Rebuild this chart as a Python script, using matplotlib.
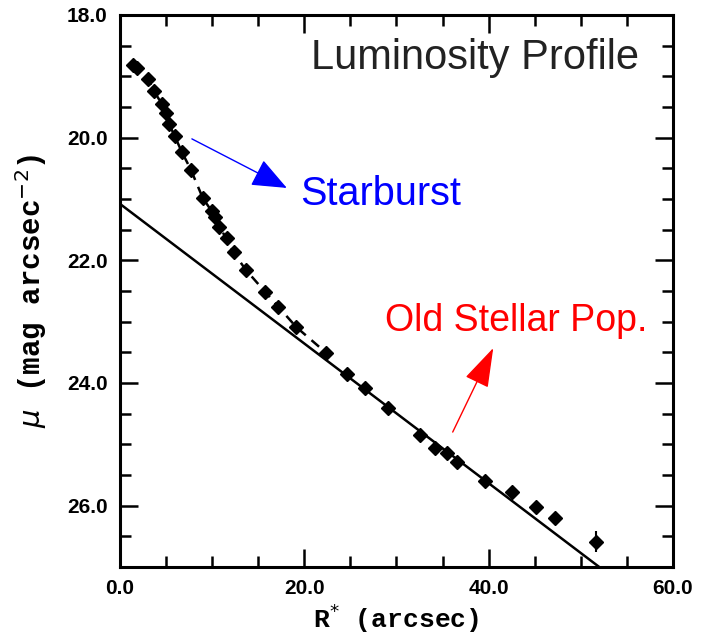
import numpy as np
import matplotlib as mp
mp.use('Agg')
import matplotlib.pyplot as plt

# surface brightness profile, radius in arcsec vs mag/arcsec^2
radius = [1.41, 1.84, 3.03, 3.68, 4.54, 4.97, 5.30, 5.95, 6.70, 7.68,
          8.97, 9.95, 10.27, 10.70, 11.57, 12.32, 13.62, 15.78, 17.19, 19.14,
          22.38, 24.65, 26.59, 29.08, 32.54, 34.16, 35.46, 36.54, 39.57, 42.49,
          45.19, 47.24, 51.68]
mu = [18.81, 18.86, 19.04, 19.24, 19.45, 19.59, 19.77, 19.98, 20.23, 20.52,
      20.98, 21.20, 21.30, 21.45, 21.64, 21.87, 22.15, 22.52, 22.76, 23.09,
      23.51, 23.85, 24.08, 24.41, 24.85, 25.06, 25.14, 25.28, 25.59, 25.77,
      26.02, 26.20, 26.59]
mu_err = [0.0] * 32 + [0.17]

# points joined by the dashed total-profile curve
n_inner = 21

# exponential disk (old population), straight line in mag
disk_r = [0.0, 52.0]
disk_mu = [21.08, 27.0]

fig = plt.figure(figsize=(7.03, 6.43), dpi=100)
ax = fig.add_axes([0.1707, 0.1182, 0.7866, 0.8585])

ax.plot(disk_r, disk_mu, color='black', lw=1.8)
ax.plot(radius[:n_inner], mu[:n_inner], color='black', lw=1.8, ls=(0, (4, 3)))
ax.errorbar(radius, mu, yerr=mu_err, fmt='D', color='black', ms=7,
            elinewidth=1.5, capsize=0)

ax.set_xlim(0, 60)
ax.set_ylim(27, 18)
ax.set_xticks([0, 20, 40, 60])
ax.set_xticks(np.arange(0, 61, 5), minor=True)
ax.set_yticks([18, 20, 22, 24, 26])
ax.set_yticks(np.arange(18, 27.01, 0.5), minor=True)
ax.set_xticklabels(['0.0', '20.0', '40.0', '60.0'])
ax.set_yticklabels(['18.0', '20.0', '22.0', '24.0', '26.0'])
ax.tick_params(which='both', direction='in', top=True, right=True, width=1.8)
ax.tick_params(which='major', length=13, pad=9)
ax.tick_params(which='minor', length=8)
for lab in ax.get_xticklabels() + ax.get_yticklabels():
    lab.set_fontfamily('Liberation Sans')
    lab.set_fontweight('bold')
    lab.set_fontsize(15)
for sp in ax.spines.values():
    sp.set_linewidth(2.2)

ax.set_xlabel('R$^{*}$ (arcsec)', family='Liberation Mono', weight='bold',
              fontsize=19, labelpad=2)
ax.set_ylabel('$\\mu$ (mag arcsec$^{-2}$)', family='Liberation Mono',
              weight='bold', fontsize=21, labelpad=13)

ax.text(0.345, 0.922, 'Luminosity Profile', transform=ax.transAxes,
        family='Liberation Sans', fontsize=30, color='#222222', va='center')
ax.text(0.325, 0.676, 'Starburst', transform=ax.transAxes,
        family='Liberation Sans', fontsize=28.5, color='blue', va='center')
ax.text(0.48, 0.445, 'Old Stellar Pop.', transform=ax.transAxes,
        family='Liberation Sans', fontsize=27, color='red', va='center')

ax.annotate('', xy=(18.1, 20.82), xytext=(7.8, 20.02),
            arrowprops=dict(arrowstyle='-|>,head_length=2.2,head_width=0.9',
                            color='blue', lw=1.0, shrinkA=0, shrinkB=0))
ax.annotate('', xy=(40.5, 23.43), xytext=(36.1, 24.80),
            arrowprops=dict(arrowstyle='-|>,head_length=2.5,head_width=0.8',
                            color='red', lw=1.0, shrinkA=0, shrinkB=0))

fig.savefig('out.png', dpi=100)
